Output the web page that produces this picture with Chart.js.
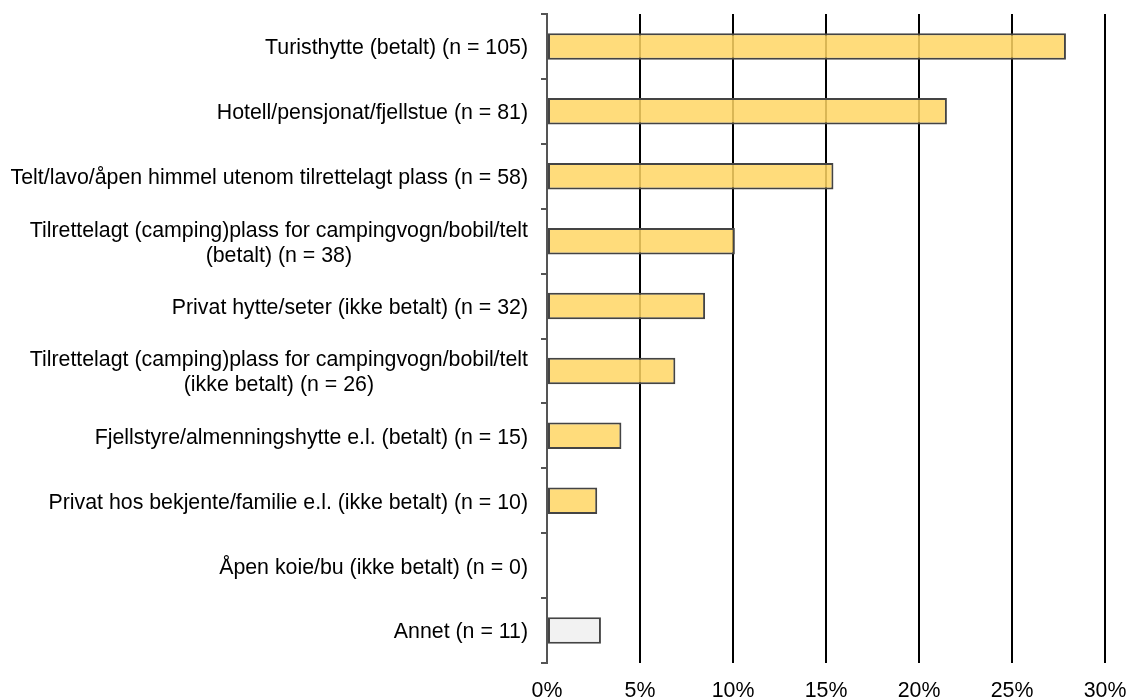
<!DOCTYPE html>
<html>
<head>
<meta charset="utf-8">
<script src="https://cdn.jsdelivr.net/npm/chart.js@4/dist/chart.umd.min.js"></script>
<style>
  html, body { margin: 0; padding: 0; background: #fff; }
  #wrap { width: 1126px; height: 699px; position: relative; }
</style>
</head>
<body>
<div id="wrap"><canvas id="c"></canvas></div>
<script>
const categories = [
  "Turisthytte (betalt) (n = 105)",
  "Hotell/pensjonat/fjellstue (n = 81)",
  "Telt/lavo/åpen himmel utenom tilrettelagt plass (n = 58)",
  ["Tilrettelagt (camping)plass for campingvogn/bobil/telt", "(betalt) (n = 38)"],
  "Privat hytte/seter (ikke betalt) (n = 32)",
  ["Tilrettelagt (camping)plass for campingvogn/bobil/telt", "(ikke betalt) (n = 26)"],
  "Fjellstyre/almenningshytte e.l. (betalt) (n = 15)",
  "Privat hos bekjente/familie e.l. (ikke betalt) (n = 10)",
  "Åpen koie/bu (ikke betalt) (n = 0)",
  "Annet (n = 11)"
];
const percentValues = [27.9, 21.5, 15.4, 10.1, 8.5, 6.9, 4.0, 2.7, 0, 2.9];
const xTickValues = [0, 5, 10, 15, 20, 25, 30];

const yellow = 'rgba(255, 214, 100, 0.85)';
const grey = 'rgba(242, 242, 242, 1)';
const fills = categories.map((c, i) => i === categories.length - 1 ? grey : yellow);

const FAMILY = "'Liberation Sans', Arial, sans-serif";
const FSIZE = 21.33;
const FONT = { family: FAMILY, size: FSIZE };

// Draw category labels: block right-aligned to the axis, lines centred within block
const yLabelPlugin = {
  id: 'yLabels',
  afterDraw(chart) {
    const ys = chart.scales.y;
    const ctx = chart.ctx;
    ctx.save();
    ctx.font = FSIZE + 'px ' + FAMILY;
    ctx.fillStyle = '#000';
    ctx.textAlign = 'center';
    ctx.textBaseline = 'middle';
    const right = ys.right - 19;
    const lineH = 25;
    chart.data.labels.forEach((lab, i) => {
      const lines = Array.isArray(lab) ? lab : [lab];
      const maxW = Math.max(...lines.map(l => ctx.measureText(l).width));
      const cx = right - maxW / 2;
      const cy = ys.getPixelForValue(i) + 2;
      lines.forEach((l, j) => {
        ctx.fillText(l, cx, cy + (j - (lines.length - 1) / 2) * lineH);
      });
    });
    ctx.restore();
  }
};

new Chart(document.getElementById('c'), {
  type: 'bar',
  data: {
    labels: categories,
    datasets: [{
      data: percentValues,
      backgroundColor: fills,
      borderColor: '#444',
      borderWidth: ctx => (ctx.raw === 0 ? 0 : 2),
      borderSkipped: false,
      barPercentage: 0.8,
      categoryPercentage: 0.51
    }]
  },
  plugins: [yLabelPlugin],
  options: {
    indexAxis: 'y',
    responsive: true,
    maintainAspectRatio: false,
    animation: false,
    layout: { padding: { top: 14, right: 21, left: 0, bottom: 0 } },
    plugins: { legend: { display: false }, tooltip: { enabled: false } },
    scales: {
      x: {
        min: 0, max: 30,
        afterBuildTicks: axis => { axis.ticks = xTickValues.map(v => ({ value: v })); },
        afterFit: axis => { axis.height = 36; axis.paddingRight = 0; axis.paddingLeft = 0; },
        border: { display: false },
        grid: {
          drawTicks: false,
          color: ctx => (ctx.tick && ctx.tick.value === 0 ? 'rgba(0,0,0,0)' : '#000'),
          lineWidth: 2
        },
        ticks: {
          color: '#000',
          font: FONT,
          padding: 15,
          maxRotation: 0,
          callback: v => v + '%'
        }
      },
      y: {
        afterFit: axis => { axis.width = 547; axis.paddingTop = 0; axis.paddingBottom = 0; },
        border: { display: true, color: '#555', width: 2 },
        grid: {
          offset: true,
          drawOnChartArea: false,
          drawTicks: true,
          tickLength: 6,
          color: '#555',
          lineWidth: 2
        },
        ticks: {
          display: false
        }
      }
    }
  }
});
</script>
</body>
</html>
